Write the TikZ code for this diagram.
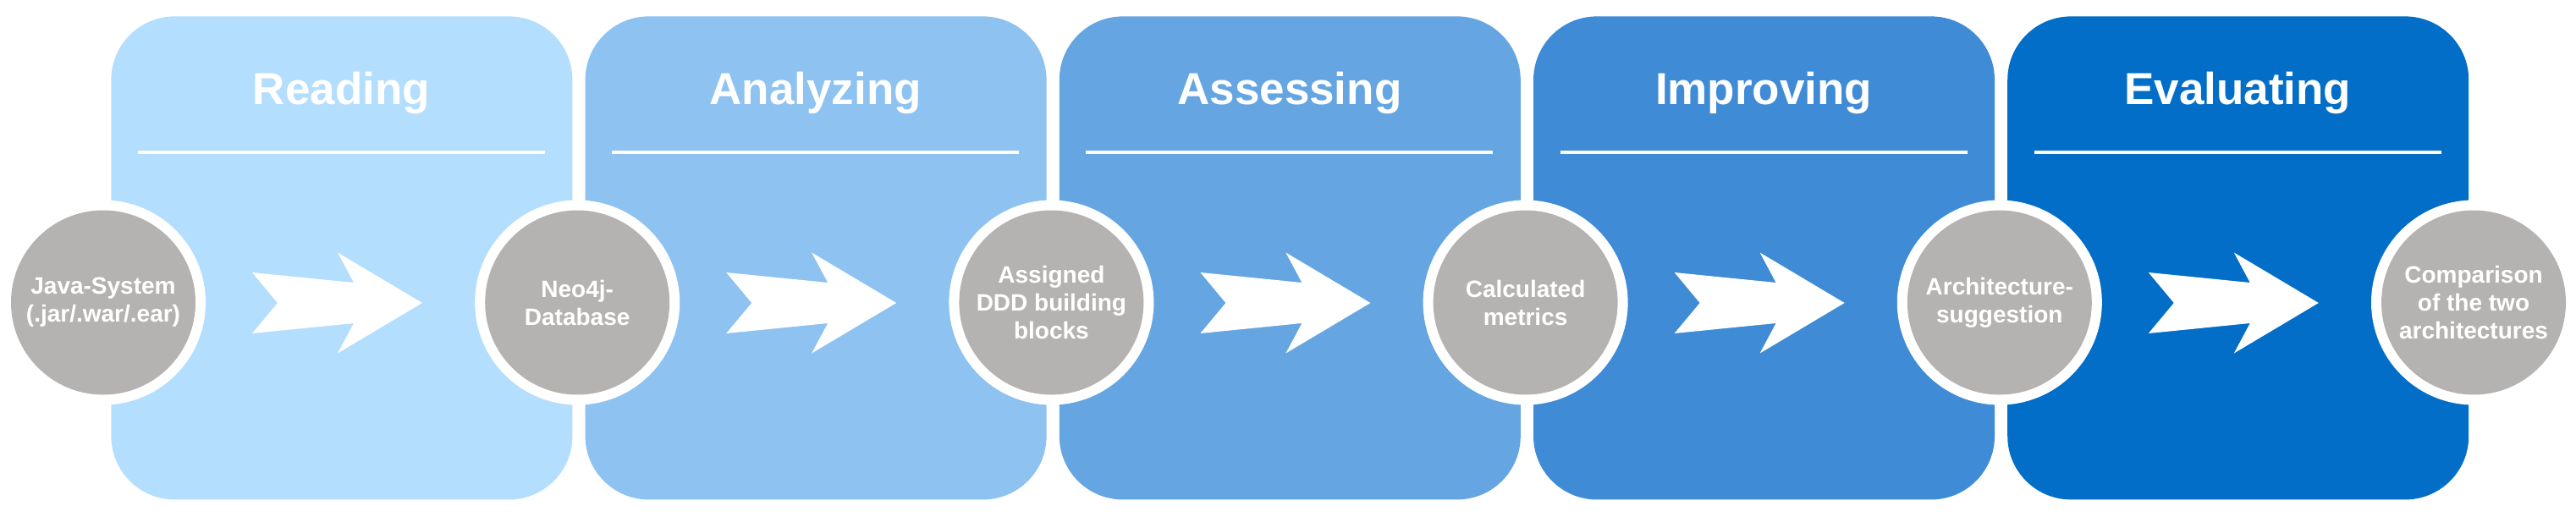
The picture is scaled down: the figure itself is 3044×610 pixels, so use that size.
\documentclass[tikz,border=0pt]{standalone}
\usepackage{fontspec}
\setmainfont{Liberation Sans}
\definecolor{c0}{HTML}{B4DEFD}
\definecolor{c1}{HTML}{8DC2F1}
\definecolor{c2}{HTML}{65A6E2}
\definecolor{c3}{HTML}{3F8BD6}
\definecolor{c4}{HTML}{026EC7}
\definecolor{cgray}{HTML}{B4B3B2}
\begin{document}
\begin{tikzpicture}[x=0.5pt,y=-0.5pt,
  stage/.style={rectangle, rounded corners=37.5pt, minimum width=272.5pt, minimum height=285.5pt, inner sep=0pt, anchor=north west},
  ring/.style={circle, fill=white, minimum size=121pt, inner sep=0pt},
  dot/.style={circle, fill=cgray, minimum size=109pt, inner sep=0pt, text=white, font=\bfseries\fontsize{14}{16.5}\selectfont, align=center},
  title/.style={text=white, font=\bfseries\fontsize{26.5}{30}\selectfont, anchor=base, inner sep=0pt},
  rule/.style={draw=white, line width=2pt},
  blockarrow/.style={fill=white, draw=none}]
\useasboundingbox (0,0) rectangle (3044,610);
\foreach \i/\name in {0/Reading,1/Analyzing,2/Assessing,3/Improving,4/Evaluating} {
  \node[stage, fill=c\i] (box\i) at ({131+560.2*\i},19) {};
  \node[title] (title\i) at ({403.5+560.2*\i},124) {\name};
  \coordinate (ra\i) at ({163+560.2*\i},180);
  \coordinate (rb\i) at ({644+560.2*\i},180);
  \draw[rule] (ra\i) -- (rb\i);
  \fill[blockarrow, shift={({401+560.2*\i},358)}] (-103,-36) -- (17,-24) -- (-2,-59.5) -- (98,0) -- (-2,59.5) -- (17,24) -- (-103,36) -- (-73,0) -- cycle;
}
\foreach \j/\txt in {0/{Java-System\\(.jar/.war/.ear)},1/{Neo4j-\\Database},2/{Assigned\\DDD building\\blocks},3/{Calculated\\metrics},4/{Architecture-\\suggestion},5/{Comparison\\of the two\\architectures}} {
  \node[ring] (ring\j) at ({122+560.2*\j},357.5) {};
  \node[dot] (dot\j) at (ring\j) {\txt};
}
\end{tikzpicture}
\end{document}
